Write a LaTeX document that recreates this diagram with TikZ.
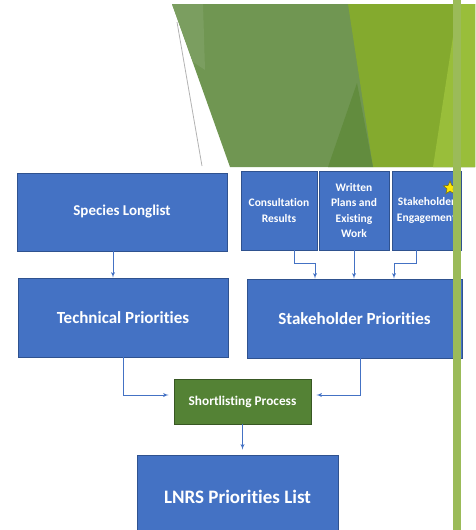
\documentclass[tikz,border=0pt]{standalone}
\usepackage{fontspec}
\setmainfont{Carlito}[Ligatures=NoCommon]
\usetikzlibrary{shapes,arrows,positioning,calc}
\definecolor{boxblue}{RGB}{68,114,196}
\definecolor{boxedge}{RGB}{47,82,143}
\definecolor{procgreen}{RGB}{84,130,53}
\definecolor{procedge}{RGB}{56,87,35}
\definecolor{leafdark}{RGB}{112,150,82}
\definecolor{leafdeep}{RGB}{98,140,62}
\definecolor{leaflight}{RGB}{132,170,46}
\definecolor{leafyellow}{RGB}{153,190,58}
\definecolor{barolive}{RGB}{155,187,89}

\begin{document}
\begin{tikzpicture}[auto,>=latex',x=1pt,y=-1pt]
\tikzstyle{block} = [draw=boxedge, fill=boxblue, text=white, shape=rectangle, line width=0.8pt, inner sep=0pt, align=center, font=\bfseries]
\tikzstyle{proc} = [block, draw=procedge, fill=procgreen]
\tikzstyle{link} = [->, draw=boxblue, line width=0.9pt]
\useasboundingbox (0,0) rectangle (475,530);
\clip (0,0) rectangle (475,530);
%Background leaves
\fill[leafdark] (172,4) -- (475,4) -- (475,167) -- (230,167) -- cycle;
\fill[leafdark!92!white] (172,4) -- (203,4) -- (205,70) -- (193,62) -- cycle;
\fill[leaflight] (348,4) -- (475,4) -- (475,167) -- (373,167) -- cycle;
\fill[leafdeep] (328,167) -- (357,83) -- (373,167) -- cycle;
\fill[leafyellow] (433,167) -- (458,4) -- (475,4) -- (475,167) -- cycle;
\draw[gray!60, line width=0.8pt] (177,22) -- (202,166);
%Creating Blocks
\node at (122,212) [block, minimum width=210pt, minimum height=78pt, font=\bfseries\fontsize{15}{18}\selectfont] (species) {Species Longlist};
\node at (123,317.5) [block, minimum width=210pt, minimum height=79pt, font=\bfseries\fontsize{17}{20}\selectfont] (technical) {Technical Priorities};
\node at (279,210.5) [block, minimum width=76pt, minimum height=79pt, font=\bfseries\fontsize{11.5}{15.3}\selectfont] (consult) {Consultation\\Results};
\node at (354,210.5) [block, minimum width=70pt, minimum height=79pt, font=\bfseries\fontsize{11.5}{15.3}\selectfont] (written) {Written\\Plans and\\Existing\\Work};
\node at (426.5,210.5) [block, minimum width=69pt, minimum height=79pt, font=\bfseries\fontsize{11.5}{15.3}\selectfont] (engage) {Stakeholder\\Engagement};
\node at (354.5,318.5) [block, minimum width=215pt, minimum height=79pt, font=\bfseries\fontsize{17}{20}\selectfont] (stakepri) {Stakeholder Priorities};
\node at (242.5,401.5) [proc, minimum width=137pt, minimum height=45pt, font=\bfseries\fontsize{13.3}{16}\selectfont] (shortlist) {Shortlisting Process};
\node at (237.5,497) [block, minimum width=201pt, minimum height=84pt, font=\bfseries\fontsize{19}{22}\selectfont] (lnrs) {LNRS Priorities List};
\node at (450,188) [star, star points=5, star point ratio=2.2, minimum size=14pt, inner sep=0pt, fill=yellow!90!orange, draw=olive!80!black, line width=0.6pt] (mark) {};
%Connections
\draw[link] ([xshift=-9pt]species.south) -- ([xshift=-10pt]technical.north);
\draw[link] ([xshift=15pt]consult.south) -- ++(0,13) -| ([xshift=-39.5pt]stakepri.north);
\draw[link] (written.south) -- (written.south |- stakepri.north);
\draw[link] ([xshift=-10.5pt]engage.south) -- ++(0,13) -| ([xshift=39.5pt]stakepri.north);
\draw[link, shorten >=5pt] (technical.south) |- ([yshift=6.5pt]shortlist.west);
\draw[link, shorten >=5pt] ([xshift=5.5pt]stakepri.south) |- ([yshift=6.5pt]shortlist.east);
\draw[link, shorten >=5pt] (shortlist.south) -- (shortlist.south |- lnrs.north);
%Side bar
\fill[barolive] (453,0) rectangle (461,530);
\end{tikzpicture}
\end{document}
